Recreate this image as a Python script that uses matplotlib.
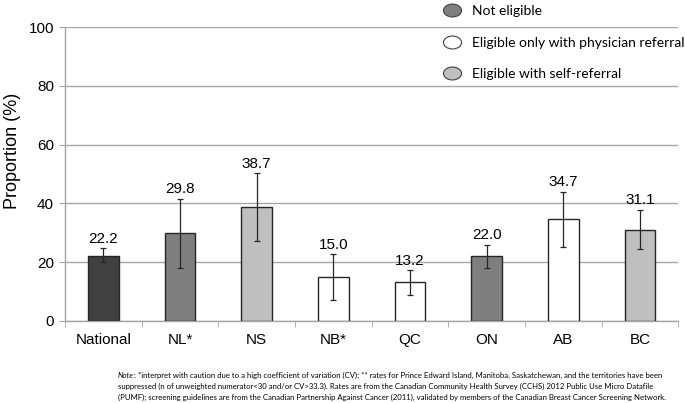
import numpy as np
import matplotlib.pyplot as plt
from matplotlib.lines import Line2D
from matplotlib.path import Path
from matplotlib.transforms import Affine2D

plt.rcParams['font.family'] = ['Liberation Sans', 'DejaVu Sans']

regions = ["National", "NL*", "NS", "NB*", "QC", "ON", "AB", "BC"]
values = [22.2, 29.8, 38.7, 15.0, 13.2, 22.0, 34.7, 31.1]
ci_low = [20.0, 18.0, 27.2, 7.0, 9.0, 17.9, 25.2, 24.4]
ci_high = [24.7, 41.6, 50.2, 22.8, 17.3, 25.9, 44.0, 37.9]
status = ["national", "not", "self", "phys", "phys", "not", "phys", "self"]

colors = {"national": "#404040", "not": "#7f7f7f", "phys": "#ffffff", "self": "#bfbfbf"}
legend_labels = [("not", "Not eligible"),
                 ("phys", "Eligible only with physician referral"),
                 ("self", "Eligible with self-referral")]

note_lines = [
    ": *interpret with caution due to a high coefficient of variation (CV); ** rates for Prince Edward Island, Manitoba, Saskatchewan, and the territories have been",
    "suppressed (n of unweighted numerator<30 and/or CV>33.3). Rates are from the Canadian Community Health Survey (CCHS) 2012 Public Use Micro Datafile",
    "(PUMF); screening guidelines are from the Canadian Partnership Against Cancer (2011), validated by members of the Canadian Breast Cancer Screening Network.",
]

fig = plt.figure(figsize=(6.85, 4.03), dpi=100)
ax = fig.add_axes([0.095, 0.2035, 0.895, 0.7295])

x = np.arange(len(regions))
vals = np.array(values)
yerr = [vals - np.array(ci_low), np.array(ci_high) - vals]
ax.bar(x, vals, width=0.4, color=[colors[s] for s in status],
       edgecolor="#262626", linewidth=1.0, zorder=3)
ax.errorbar(x, vals, yerr=yerr, fmt="none", ecolor="#262626",
            elinewidth=0.9, capsize=2.5, capthick=0.9, zorder=4)
for xi, v, hi in zip(x, values, ci_high):
    ax.text(xi, hi + 0.8, f"{v:.1f}", ha="center", va="bottom", fontsize=11)

ax.set_xlim(-0.5, len(regions) - 0.5)
ax.set_ylim(0, 100)
ax.set_yticks(np.arange(0, 101, 20))
ax.set_xticks(x)
ax.set_xticklabels(regions, fontsize=11)
ax.set_xticks(np.arange(-0.5, len(regions), 1), minor=True)
ax.tick_params(axis="x", which="major", length=0, pad=9)
ax.tick_params(axis="x", which="minor", length=4, color="#a6a6a6")
ax.tick_params(axis="y", length=4, color="#a6a6a6", labelsize=11, pad=4)
ax.grid(axis="y", color="#a6a6a6", linewidth=1.0, zorder=0)
ax.set_axisbelow(True)
for side in ["top", "right"]:
    ax.spines[side].set_visible(False)
for side in ["left", "bottom"]:
    ax.spines[side].set_color("#a6a6a6")
    ax.spines[side].set_linewidth(1.0)
ax.set_ylabel("Proportion (%)", fontsize=13)
ax.yaxis.set_label_coords(-0.072, 0.58)

ell = Path.unit_circle().transformed(Affine2D().scale(1.4, 1.0))
handles = [Line2D([], [], linestyle="none", marker=ell, markersize=13,
                  markerfacecolor=colors[k], markeredgecolor="#404040",
                  markeredgewidth=0.8) for k, _ in legend_labels]
fig.legend(handles, [lab for _, lab in legend_labels], loc="upper left",
           bbox_to_anchor=(0.627, 1.018), frameon=False, handlelength=1.4,
           handletextpad=0.75, labelspacing=1.4,
           prop={"family": "Lato", "size": 10})

# note under the chart, "Note" in italics
fs_note = 5.6
note_y = [1 - 375 / 403, 1 - 386 / 403, 1 - 397 / 403]
t0 = fig.text(0.172, note_y[0], "Note", ha="left", va="center", fontsize=fs_note,
              family="Lato", style="italic")
fig.canvas.draw()
bb = t0.get_window_extent()
x_after = bb.x1 / fig.bbox.width
fig.text(x_after, note_y[0], note_lines[0], ha="left", va="center",
         fontsize=fs_note, family="Lato")
for yy, line in zip(note_y[1:], note_lines[1:]):
    fig.text(0.172, yy, line, ha="left", va="center", fontsize=fs_note, family="Lato")

fig.savefig("out.png", dpi=100)
